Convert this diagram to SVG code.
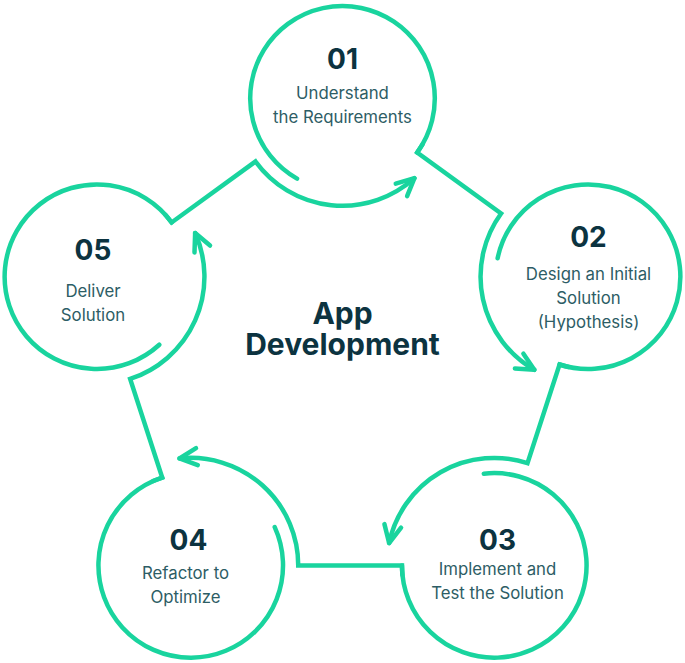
<svg xmlns="http://www.w3.org/2000/svg" width="685" height="663" viewBox="0 0 685 663">
<style>
.ring{fill:none;stroke:#19D49E;stroke-width:4.5;stroke-linecap:round;stroke-linejoin:miter}
.num{font-family:Inter,"Liberation Sans",sans-serif;font-weight:700;font-size:28px;fill:#0C3340;text-anchor:middle}
.lbl{font-family:Inter,"Liberation Sans",sans-serif;font-weight:400;font-size:16.8px;fill:#2D5D65;text-anchor:middle}
.title{font-family:Inter,"Liberation Sans",sans-serif;font-weight:700;font-size:30px;fill:#0C3340;text-anchor:middle}
</style>
<defs>
<marker id="ah" markerUnits="userSpaceOnUse" refX="0" refY="0" orient="auto" overflow="visible">
<path d="M -17.5 -8.5 L 0 0 L -17.5 8.5" fill="none" stroke="#19D49E" stroke-width="4.5" stroke-linecap="round" stroke-linejoin="round"/>
</marker>
<path id="ringPath" d="M 297.05 178.63 A 92.3 92.3 0 1 1 417.17 152.55"/>
</defs>
<rect width="685" height="663" fill="#FFFFFF"/>
<g id="connectors" class="ring">
<path d="M 165.53 214.95 A 92.3 92.3 0 0 1 171.61 222.46 L 255.53 161.49 A 107.5 107.5 0 0 0 414.43 178.19" marker-end="url(#ah)"/>
<path transform="rotate(72 342.5 356.5)" d="M 165.53 214.95 A 92.3 92.3 0 0 1 171.61 222.46 L 255.53 161.49 A 107.5 107.5 0 0 0 414.43 178.19" marker-end="url(#ah)"/>
<path transform="rotate(144 342.5 356.5)" d="M 165.53 214.95 A 92.3 92.3 0 0 1 171.61 222.46 L 255.53 161.49 A 107.5 107.5 0 0 0 414.43 178.19" marker-end="url(#ah)"/>
<path transform="rotate(216 342.5 356.5)" d="M 165.53 214.95 A 92.3 92.3 0 0 1 171.61 222.46 L 255.53 161.49 A 107.5 107.5 0 0 0 414.43 178.19" marker-end="url(#ah)"/>
<path transform="rotate(288 342.5 356.5)" d="M 165.53 214.95 A 92.3 92.3 0 0 1 171.61 222.46 L 255.53 161.49 A 107.5 107.5 0 0 0 414.43 178.19" marker-end="url(#ah)"/>
</g>
<g id="node01">
<use href="#ringPath" class="ring"/>
<text class="num" x="342.5" y="68.5">01</text>
<text class="lbl" x="342.5" y="98.5">Understand</text>
<text class="lbl" x="342.5" y="122.5">the Requirements</text>
</g>
<g id="node02">
<use href="#ringPath" class="ring" transform="rotate(72 342.5 356.5)"/>
<text class="num" x="588.5" y="246.5">02</text>
<text class="lbl" x="588.5" y="280">Design an Initial</text>
<text class="lbl" x="588.5" y="304">Solution</text>
<text class="lbl" x="588.5" y="328">(Hypothesis)</text>
</g>
<g id="node03">
<use href="#ringPath" class="ring" transform="rotate(144 342.5 356.5)"/>
<text class="num" x="497.5" y="549.5">03</text>
<text class="lbl" x="497.5" y="575">Implement and</text>
<text class="lbl" x="497.5" y="599">Test the Solution</text>
</g>
<g id="node04">
<use href="#ringPath" class="ring" transform="rotate(216 342.5 356.5)"/>
<text class="num" x="188.5" y="549.5">04</text>
<text class="lbl" x="185.5" y="578.5">Refactor to</text>
<text class="lbl" x="185.5" y="602.5">Optimize</text>
</g>
<g id="node05">
<use href="#ringPath" class="ring" transform="rotate(288 342.5 356.5)"/>
<text class="num" x="93" y="260">05</text>
<text class="lbl" x="93" y="297">Deliver</text>
<text class="lbl" x="93" y="321">Solution</text>
</g>
<g id="center">
<text class="title" x="342.5" y="323.5">App<tspan x="342.5" y="355">Development</tspan></text>
</g>
</svg>
